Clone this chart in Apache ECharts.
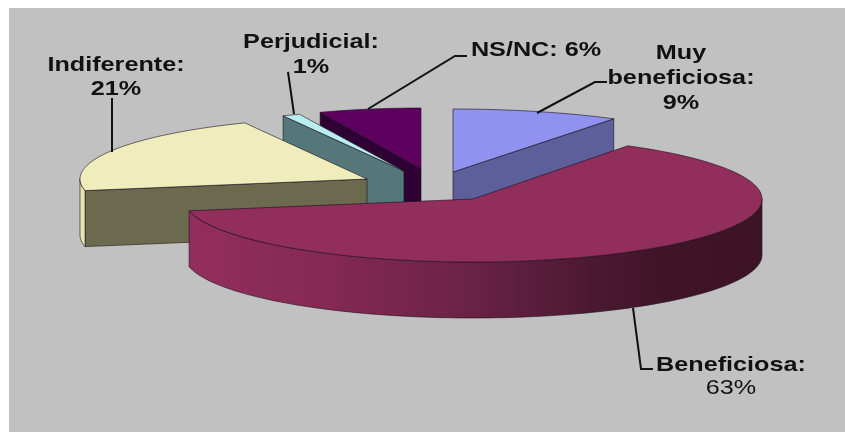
<!DOCTYPE html>
<html>
<head>
<meta charset="utf-8">
<style>html,body{margin:0;padding:0;background:#fff}#c{width:845px;height:432px}</style>
<script src="https://cdn.jsdelivr.net/npm/echarts@6/dist/echarts.min.js"></script>
</head>
<body>
<div id="c"></div>
<script>
// Data
const categories = ['Muy beneficiosa', 'Beneficiosa', 'Indiferente', 'Perjudicial', 'NS/NC'];
const values = [9, 63, 21, 1, 6];
const labelLines = [
  ['Muy', 'beneficiosa:', '9%'],
  ['Beneficiosa:', '63%'],
  ['Indiferente:', '21%'],
  ['Perjudicial:', '1%'],
  ['NS/NC: 6%']
];

// Styles and layout
const topColors = ['#8f92ee', '#922e5c', '#efedbb', '#b9eef0', '#5d0060'];
const wallColors = ['#5c5f99', null, '#6b6a4f', '#56777a', '#2f0034'];
const rimColors = ['#5c5f99', null, '#e6e4b0', '#56777a', '#2f0034'];
const apexes = [[453, 172], [473, 199], [367, 179], [404, 171], [421, 169]];
const radii = [[300, 63], [289, 63], [287, 62], [284, 61], [274, 61]];
const depth = 56;
const drawOrder = [4, 3, 0, 2, 1];
const labelCenters = [[681, 53, 25], [731, 365, 23], [116, 65, 24], [311, 42, 25], [536, 50, 0]];
const leaders = [
  [[537, 113], [595, 82], [607, 82]],
  [[633, 308], [641, 369], [653, 369]],
  [[112, 152], [112, 98]],
  [[294, 114], [288, 72]],
  [[368, 109], [455, 56], [467, 56]]
];
const regularLines = {'63%': true};

const total = values.reduce((a, b) => a + b, 0);
const startAngles = [];
values.reduce((acc, v, i) => { startAngles[i] = acc; return acc + v; }, 0);

function pt(i, deg, drop) {
  const t = deg * Math.PI / 180;
  return [apexes[i][0] + radii[i][0] * Math.sin(t), apexes[i][1] - radii[i][1] * Math.cos(t) + (drop || 0)];
}
function arc(i, a0, a1, drop) {
  const n = Math.max(2, Math.ceil(Math.abs(a1 - a0) / 1.5));
  const out = [];
  for (let k = 0; k <= n; k++) out.push(pt(i, a0 + (a1 - a0) * k / n, drop));
  return out;
}
const edge = {stroke: 'rgba(25,15,30,0.75)', lineWidth: 0.8, lineJoin: 'round'};
function poly(points, fill) {
  return {type: 'polygon', shape: {points: points}, style: Object.assign({fill: fill}, edge)};
}
const rimGradient = new echarts.graphic.LinearGradient(187, 0, 761, 0, [
  {offset: 0, color: '#932e5d'},
  {offset: 0.25, color: '#842952'},
  {offset: 0.47, color: '#6c2347'},
  {offset: 0.72, color: '#4a1830'},
  {offset: 0.85, color: '#3f1427'},
  {offset: 1, color: '#3d1326'}
], true);

function renderSlice(params, api) {
  const i = drawOrder[params.dataIndex];
  const a0 = api.value(1) / total * 360;
  const a1 = a0 + api.value(2) / total * 360;
  const apex = apexes[i];
  const children = [];
  const radialWall = (deg) => {
    const p = pt(i, deg);
    children.push(poly([p, apex, [apex[0], apex[1] + depth], [p[0], p[1] + depth]], wallColors[i]));
  };
  if (a0 > 180 && a0 < 360) radialWall(a0);
  if (a1 > 0 && a1 < 180) radialWall(a1);
  const r0 = Math.max(a0, 90), r1 = Math.min(a1, 270);
  if (r1 > r0) {
    const top = arc(i, r0, r1, 0);
    const bottom = arc(i, r1, r0, depth);
    children.push(poly(top.concat(bottom), rimColors[i] || rimGradient));
  }
  children.push(poly([apex].concat(arc(i, a0, a1, 0)), topColors[i]));
  return {type: 'group', children: children};
}

function renderLabel(params) {
  const i = params.dataIndex;
  const children = [{
    type: 'polyline',
    shape: {points: leaders[i]},
    style: {stroke: '#111', lineWidth: 2, fill: null}
  }];
  const c = labelCenters[i];
  labelLines[i].forEach((line, k) => {
    children.push({
      type: 'text',
      x: c[0],
      y: c[1] + k * c[2],
      scaleX: 1.2,
      style: {
        text: line,
        fill: '#111',
        font: (regularLines[line] ? 'normal' : 'bold') + ' 21px "Liberation Sans", Arial, sans-serif',
        textAlign: 'center',
        textVerticalAlign: 'middle'
      }
    });
  });
  return {type: 'group', children: children};
}

const chart = echarts.init(document.getElementById('c'), null, {renderer: 'canvas'});
chart.setOption({
  animation: false,
  backgroundColor: '#ffffff',
  graphic: [{
    type: 'rect', z: 0, silent: true,
    shape: {x: 9, y: 8, width: 836, height: 424},
    style: {fill: '#c1c1c1'}
  }],
  series: [{
    type: 'custom',
    coordinateSystem: 'none',
    silent: true,
    z: 2,
    renderItem: renderSlice,
    data: drawOrder.map(i => [categories[i], startAngles[i], values[i]]),
    dimensions: ['name', 'start', 'value'],
    encode: {itemName: 0, value: 2}
  }, {
    type: 'custom',
    coordinateSystem: 'none',
    silent: true,
    z: 3,
    renderItem: renderLabel,
    data: categories.map((n, i) => [n, values[i]])
  }]
});
</script>
</body>
</html>
